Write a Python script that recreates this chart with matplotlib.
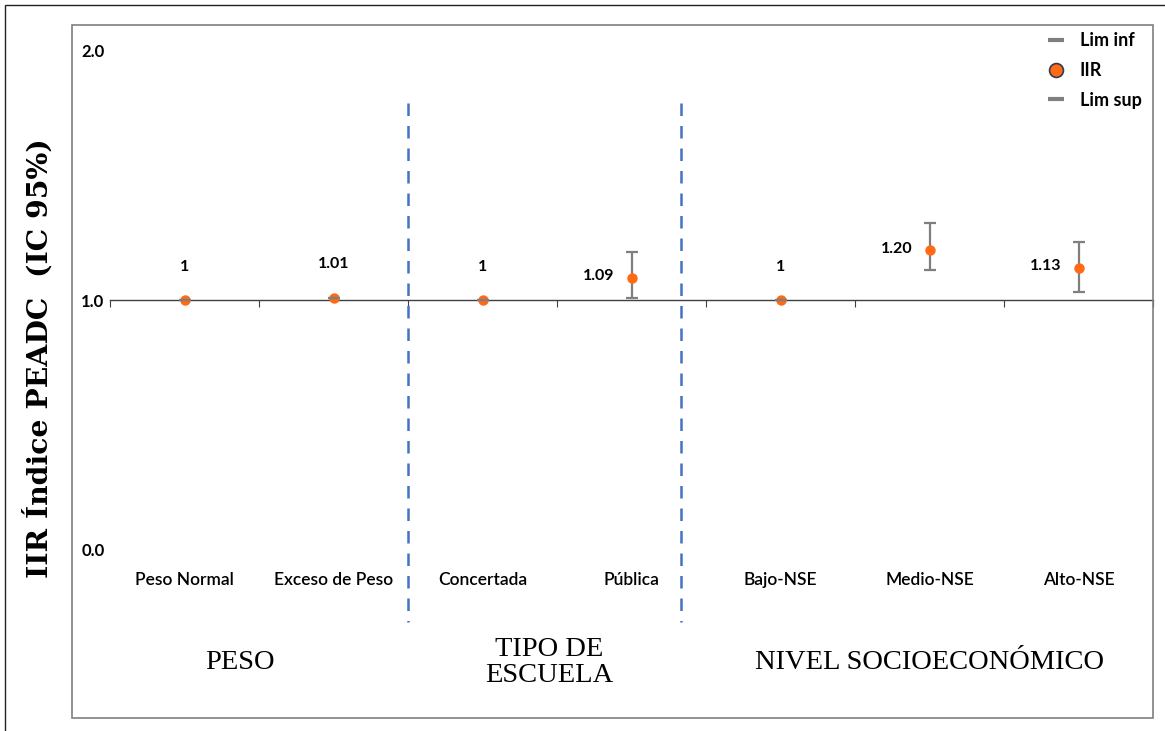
import matplotlib
matplotlib.use("Agg")
import matplotlib.pyplot as plt
from matplotlib.patches import Rectangle
from matplotlib.lines import Line2D

# Incidence ratios (IIR) with 95% CI by group
categories = ["Peso Normal", "Exceso de Peso", "Concertada", "Pública",
              "Bajo-NSE", "Medio-NSE", "Alto-NSE"]
iir = [1.0, 1.01, 1.0, 1.09, 1.0, 1.20, 1.13]
iir_labels = ["1", "1.01", "1", "1.09", "1", "1.20", "1.13"]
lim_inf = [1.0, 1.01, 1.0, 1.007, 1.0, 1.12, 1.031]
lim_sup = [1.0, 1.01, 1.0, 1.193, 1.0, 1.307, 1.233]
groups = ["PESO", "TIPO DE\nESCUELA", "NIVEL SOCIOECONÓMICO"]
group_centers = [1.37, 3.45, 6.0]
separators = [2.5, 4.33]

W, H = 1165, 731
fig = plt.figure(figsize=(W / 100, H / 100), dpi=100)
ax = fig.add_axes([110 / W, 1 - 718 / H, 1043 / W, 693 / H])
ax.set_xlim(0.5, 7.5)
ax.set_ylim(-0.672, 2.1)

sans = "Lato"
serif = "Liberation Serif"

# axis line through y = 1 with ticks between categories
for s in ["top", "right", "left"]:
    ax.spines[s].set_visible(False)
ax.spines["bottom"].set_position(("data", 1.0))
ax.spines["bottom"].set_color("#404040")
ax.spines["bottom"].set_linewidth(1.0)
ax.set_xticks([i + 0.5 for i in range(0, 8)])
ax.set_xticklabels([])
ax.tick_params(axis="x", direction="out", length=5, color="#404040")
ax.set_yticks([0, 1, 2])
ax.set_yticklabels(["0.0", "1.0", "2.0"], fontfamily=sans, fontweight="bold", fontsize=12)
ax.tick_params(axis="y", length=0, pad=4)

x = list(range(1, len(categories) + 1))
err_lo = [v - lo for v, lo in zip(iir, lim_inf)]
err_hi = [hi - v for v, hi in zip(iir, lim_sup)]
_, caps, bars = ax.errorbar(x, iir, yerr=[err_lo, err_hi], fmt="none", ecolor="#7f7f7f",
                            elinewidth=1.6, capsize=4, capthick=1.6, zorder=3)
for c in caps:
    c.set_zorder(5)
ax.plot(x, iir, "o", color="#ff6a13", markersize=7.5, markeredgewidth=0, zorder=4)

for xi, v, lo, hi, lab in zip(x, iir, lim_inf, lim_sup, iir_labels):
    if hi - lo > 0.02:
        ax.annotate(lab, (xi, v), xytext=(-12, 1), textcoords="offset points",
                    ha="right", va="center", fontfamily=sans, fontweight="bold", fontsize=11.5)
    else:
        ax.annotate(lab, (xi, v), xytext=(0, 24), textcoords="offset points",
                    ha="center", va="center", fontfamily=sans, fontweight="bold", fontsize=11.5)

for xi, name in zip(x, categories):
    ax.text(xi, -0.12, name, ha="center", va="center", fontfamily=sans,
            fontweight="semibold", fontsize=12.5)

for xs in separators:
    ax.plot([xs, xs], [1.788, -0.288], color="#4472c4", linewidth=1.8,
            linestyle=(0, (5, 4)), clip_on=False)

for xc, g in zip(group_centers, groups):
    ax.text(xc, -0.45, g, ha="center", va="center", fontfamily=serif, fontsize=20.5,
            linespacing=1.05)

# legend
handles = [
    Line2D([], [], color="#7f7f7f", marker="_", linestyle="none", markersize=12, markeredgewidth=3),
    Line2D([], [], color="#ff6a13", marker="o", linestyle="none", markersize=10,
           markeredgecolor="#2f3b5c", markeredgewidth=1.2),
    Line2D([], [], color="#7f7f7f", marker="_", linestyle="none", markersize=12, markeredgewidth=3),
]
leg = fig.legend(handles, ["Lim inf", "IIR", "Lim sup"], loc="upper right",
                 bbox_to_anchor=(1158 / W, 1 - 16 / H), frameon=False,
                 prop={"family": sans, "weight": "bold", "size": 13},
                 handlelength=1.2, handletextpad=0.7, labelspacing=0.7)

fig.text(38 / W, 1 - 358 / H, "IIR Índice PEADC  (IC 95%)", rotation=90, ha="center", va="center",
         fontfamily="DejaVu Serif", fontweight="bold", fontsize=20.3)

# inner and outer frames
fig.patches.append(Rectangle((72 / W, 1 - 718 / H), (1153 - 72) / W, 693 / H, transform=fig.transFigure,
                             fill=False, edgecolor="#7f7f7f", linewidth=1.2, zorder=0))
fig.patches.append(Rectangle((5 / W, -0.1), 1.2, 1.1 - 5 / H, transform=fig.transFigure,
                             fill=False, edgecolor="#222222", linewidth=1.0, zorder=0))

fig.savefig("out.png", dpi=100)
